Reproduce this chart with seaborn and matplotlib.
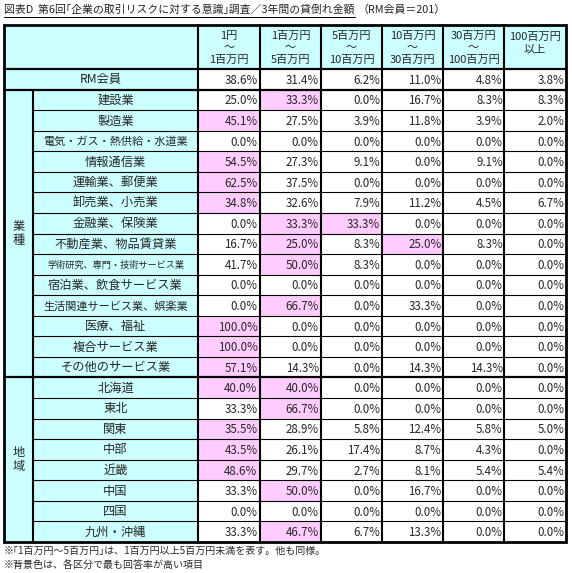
import numpy as np
import pandas as pd
import matplotlib
matplotlib.use("Agg")
import matplotlib.pyplot as plt
from matplotlib.colors import ListedColormap
from matplotlib.patches import Rectangle
import seaborn as sns

sns.set_theme(style="white")
plt.rcParams['font.family'] = ['Noto Sans CJK JP', 'DejaVu Sans']

title = "図表D  第6回｢企業の取引リスクに対する意識｣調査／3年間の貸倒れ金額"
title2 = "（RM会員＝201）"
columns = ["1円\n～\n1百万円", "1百万円\n～\n5百万円", "5百万円\n～\n10百万円",
           "10百万円\n～\n30百万円", "30百万円\n～\n100百万円", "100百万円\n以上"]
rows = ["RM会員", "建設業", "製造業", "電気・ガス・熱供給・水道業", "情報通信業", "運輸業、郵便業",
        "卸売業、小売業", "金融業、保険業", "不動産業、物品賃貸業", "学術研究、専門・技術サービス業",
        "宿泊業、飲食サービス業", "生活関連サービス業、娯楽業", "医療、福祉", "複合サービス業",
        "その他のサービス業", "北海道", "東北", "関東", "中部", "近畿", "中国", "四国", "九州・沖縄"]
groups = [("業\n種", 1, 15), ("地\n域", 15, 23)]
values = [
    [38.6, 31.4, 6.2, 11.0, 4.8, 3.8],
    [25.0, 33.3, 0.0, 16.7, 8.3, 8.3],
    [45.1, 27.5, 3.9, 11.8, 3.9, 2.0],
    [0.0, 0.0, 0.0, 0.0, 0.0, 0.0],
    [54.5, 27.3, 9.1, 0.0, 9.1, 0.0],
    [62.5, 37.5, 0.0, 0.0, 0.0, 0.0],
    [34.8, 32.6, 7.9, 11.2, 4.5, 6.7],
    [0.0, 33.3, 33.3, 0.0, 0.0, 0.0],
    [16.7, 25.0, 8.3, 25.0, 8.3, 0.0],
    [41.7, 50.0, 8.3, 0.0, 0.0, 0.0],
    [0.0, 0.0, 0.0, 0.0, 0.0, 0.0],
    [0.0, 66.7, 0.0, 33.3, 0.0, 0.0],
    [100.0, 0.0, 0.0, 0.0, 0.0, 0.0],
    [100.0, 0.0, 0.0, 0.0, 0.0, 0.0],
    [57.1, 14.3, 0.0, 14.3, 14.3, 0.0],
    [40.0, 40.0, 0.0, 0.0, 0.0, 0.0],
    [33.3, 66.7, 0.0, 0.0, 0.0, 0.0],
    [35.5, 28.9, 5.8, 12.4, 5.8, 5.0],
    [43.5, 26.1, 17.4, 8.7, 4.3, 0.0],
    [48.6, 29.7, 2.7, 8.1, 5.4, 5.4],
    [33.3, 50.0, 0.0, 16.7, 0.0, 0.0],
    [0.0, 0.0, 0.0, 0.0, 0.0, 0.0],
    [33.3, 46.7, 6.7, 13.3, 0.0, 0.0],
]
notes = ["※｢1百万円～5百万円｣は、1百万円以上5百万円未満を表す。他も同様。",
         "※背景色は、各区分で最も回答率が高い項目"]

df = pd.DataFrame(values, index=rows, columns=range(6))
arr = df.values
rowmax = arr.max(axis=1, keepdims=True)
hl = ((arr == rowmax) & (rowmax > 0)).astype(float)
hl[0, :] = 0

W, H = 572, 573
fig = plt.figure(figsize=(W / 100, H / 100), dpi=100)
CYAN, PINK = "#CCFFFF", "#FFCCFF"

xs = [4, 33, 198, 260, 321, 382, 443, 504, 566]
ytop, yhead = 25, 69
nrow = len(rows)
ybot = 542
rh = (ybot - yhead) / nrow

hax = fig.add_axes([xs[2] / W, 1 - ybot / H, (xs[8] - xs[2]) / W, (ybot - yhead) / H])
sns.heatmap(pd.DataFrame(hl), ax=hax, cmap=ListedColormap(["white", PINK]), vmin=0, vmax=1,
            cbar=False, xticklabels=False, yticklabels=False)
for i in range(nrow):
    for j in range(6):
        hax.text(j + 0.97, i + 0.55, f"{arr[i, j]:.1f}%", ha="right", va="center", fontsize=8.3)

ax = fig.add_axes([0, 0, 1, 1])
ax.set_xlim(0, W)
ax.set_ylim(H, 0)
ax.axis("off")
ax.patch.set_alpha(0)

def ry(i):
    return yhead + i * rh

ax.add_patch(Rectangle((xs[0], ytop), xs[8] - xs[0], yhead - ytop, fc=CYAN, ec="none", zorder=0))
ax.add_patch(Rectangle((xs[0], yhead), xs[2] - xs[0], ybot - yhead, fc=CYAN, ec="none", zorder=0))
for j, c in enumerate(columns):
    cx = (xs[2 + j] + xs[3 + j]) / 2
    if j < 5:
        ax.text(cx, (ytop + yhead) / 2 + 1, c, ha="center", va="center", fontsize=8.0, linespacing=1.2)
    else:
        ax.text(cx, ytop + 18, c, ha="center", va="center", fontsize=8.0, linespacing=1.2)
for i, r in enumerate(rows):
    cy = ry(i) + rh / 2 + 0.5
    if i == 0:
        ax.text((xs[0] + xs[2]) / 2, cy, r, ha="center", va="center", fontsize=8.8)
    else:
        fs = 6.6 if len(r) > 14 else (8.0 if len(r) > 11 else 8.8)
        ax.text((xs[1] + xs[2]) / 2, cy, r, ha="center", va="center", fontsize=fs)
for g, a, b in groups:
    ax.text((xs[0] + xs[1]) / 2, (ry(a) + ry(b)) / 2, g, ha="center", va="center", fontsize=8.8, linespacing=1.1)

lk = dict(color="black", zorder=5)
for i in range(2, nrow):
    if i == 15:
        continue
    ax.plot([xs[1], xs[8]], [ry(i), ry(i)], lw=0.8, **lk)
for y in (yhead, ry(1), ry(15)):
    ax.plot([xs[0], xs[8]], [y, y], lw=1.6, **lk)
for k in range(2, 8):
    ax.plot([xs[k], xs[k]], [ytop, ybot], lw=1.5, **lk)
ax.plot([xs[1], xs[1]], [ry(1), ybot], lw=1.5, **lk)
ax.add_patch(Rectangle((xs[0], ytop), xs[8] - xs[0], ybot - ytop, fill=False, ec="black", lw=2, zorder=6))

t = ax.text(4, 10, title, ha="left", va="center", fontsize=7.8)
fig.canvas.draw()
bb = t.get_window_extent()
ax.plot([4, bb.x1], [16.5, 16.5], color="black", lw=0.7)
ax.text(bb.x1 + 3, 10, title2, ha="left", va="center", fontsize=7.8)
ax.text(4, 551, notes[0], ha="left", va="center", fontsize=7.2)
ax.text(4, 565, notes[1], ha="left", va="center", fontsize=7.2)

fig.savefig("out.png", dpi=100)
